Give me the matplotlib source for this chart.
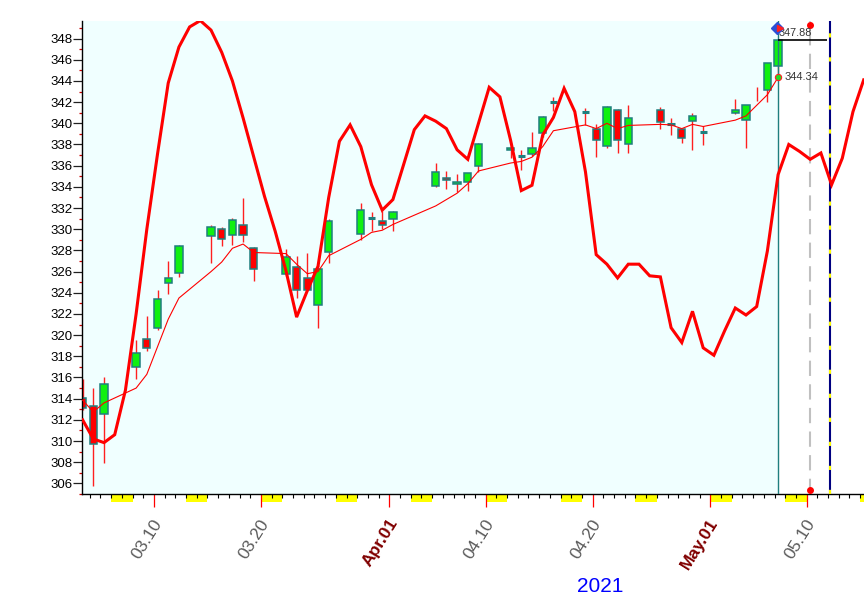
import numpy as np
import pandas as pd
import matplotlib
matplotlib.use("Agg")
import matplotlib.pyplot as plt
from matplotlib.patches import Rectangle
import matplotlib.transforms as mtransforms

plt.rcParams['font.family'] = ['Liberation Sans', 'DejaVu Sans']
plt.rcParams['lines.scale_dashes'] = False

# ---------------- data ----------------
dates = ['2021-03-03', '2021-03-04', '2021-03-05', '2021-03-08', '2021-03-09', '2021-03-10',
         '2021-03-11', '2021-03-12', '2021-03-15', '2021-03-16', '2021-03-17', '2021-03-18',
         '2021-03-19', '2021-03-22', '2021-03-23', '2021-03-24', '2021-03-25', '2021-03-26',
         '2021-03-29', '2021-03-30', '2021-03-31', '2021-04-01', '2021-04-05', '2021-04-06',
         '2021-04-07', '2021-04-08', '2021-04-09', '2021-04-12', '2021-04-13', '2021-04-14',
         '2021-04-15', '2021-04-16', '2021-04-19', '2021-04-20', '2021-04-21', '2021-04-22',
         '2021-04-23', '2021-04-26', '2021-04-27', '2021-04-28', '2021-04-29', '2021-04-30',
         '2021-05-03', '2021-05-04', '2021-05-05', '2021-05-06', '2021-05-07']
opens = [314.07, 313.3, 312.6, 316.98, 319.6, 320.7, 324.95, 325.85, 329.4, 330.0, 329.46, 330.4,
         328.24, 325.76, 326.45, 325.4, 322.88, 327.86, 329.55, 331.05, 330.77, 330.96, 334.12, 334.85,
         334.3, 334.5, 335.94, 337.5, 336.95, 337.07, 339.04, 342.0, 341.05, 339.5, 337.9, 341.3,
         338.0, 341.3, 339.9, 339.45, 340.2, 339.14, 341.0, 340.27, None, 343.1, 345.43]
highs = [315.9, 315.0, 316.0, 319.5, 321.8, 324.3, 327.0, 328.5, 330.4, 330.2, 331.1, 332.96,
         328.3, 328.1, 327.5, 327.8, 326.6, 331.0, 332.46, 331.6, 331.7, 331.7, 336.25, 335.5,
         335.2, 335.3, 338.1, 338.13, 337.5, 339.2, 340.7, 342.5, 341.4, 339.9, 341.6, 341.35,
         341.7, 341.5, 340.5, 339.5, 340.95, 339.7, 342.3, 341.7, 343.4, 345.7, 347.95]
lows = [312.9, 305.8, 307.9, 315.9, 318.5, 320.5, 323.9, 325.5, 326.85, 328.4, 328.5, 328.8,
        325.1, 325.6, 323.5, 324.2, 320.7, 326.8, 329.0, 329.86, 330.0, 329.8, 334.0, 333.8,
        333.5, 333.6, 335.4, 336.7, 335.6, 336.9, 338.7, 341.2, 339.85, 336.85, 337.7, 337.2,
        337.2, 339.5, 338.9, 338.1, 337.5, 337.97, 340.9, 337.66, 342.1, 342.05, 344.55]
closes = [313.16, 309.7, 315.36, 318.36, 318.8, 323.4, 325.4, 328.4, 330.2, 329.04, 330.87, 329.5,
          326.26, 327.4, 324.3, 324.3, 326.26, 330.8, 331.8, 331.15, 330.4, 331.6, 335.37, 334.65,
          334.5, 335.3, 338.0, 337.7, 336.95, 337.7, 340.6, 342.0, 341.15, 338.4, 341.5, 338.4,
          340.5, 340.1, 339.9, 338.6, 340.7, 339.14, 341.3, 341.7, None, 345.7, 347.88]
ma = [313.86, 312.75, 313.6, 315.0, 316.3, 318.9, 321.5, 323.5, 326.0, 326.9, 328.2, 328.6,
      327.8, 327.7, 326.7, 325.8, 326.0, 327.5, 329.04, 329.7, 329.9, 330.45, 332.2, 332.8,
      333.4, 334.3, 335.5, 336.25, 336.4, 336.8, 337.8, 339.3, 339.85, 339.5, 340.0, 339.5,
      339.8, 339.9, 339.85, 339.5, 339.9, 339.7, 340.3, 340.7, 341.7, 342.7, 344.34]

# oscillator line, one value per calendar day from 2021-03-03 to 2021-05-15
osc_start = '2021-03-03'
osc = [312.0, 310.2, 309.85, 310.6, 314.8, 322.0, 330.0, 337.1, 343.8, 347.2, 349.1, 349.7,
       348.8, 346.7, 344.0, 340.5, 336.8, 333.1, 329.8, 326.1, 321.7, 324.2, 326.5, 333.0,
       338.3, 339.85, 337.8, 334.2, 331.8, 332.8, 336.1, 339.4, 340.7, 340.2, 339.5, 337.5,
       336.6, 340.0, 343.4, 342.5, 338.4, 333.65, 334.15, 338.9, 340.55, 343.3, 341.1, 335.4,
       327.6, 326.7, 325.4, 326.7, 326.7, 325.6, 325.5, 320.7, 319.3, 322.25, 318.8, 318.1,
       320.4, 322.56, 321.9, 322.7, 327.95, 335.15, 338.0, 337.35, 336.6, 337.2, 334.2, 336.7,
       341.1, 344.1]

tick_dates = ['2021-03-10', '2021-03-20', '2021-04-01', '2021-04-10', '2021-04-20', '2021-05-01', '2021-05-10']
tick_labels = ['03.10', '03.20', 'Apr.01', '04.10', '04.20', 'May.01', '05.10']
month_ticks = ['Apr.01', 'May.01']
last_close_label = '347.88'
last_ma_label = '344.34'
next_day = '2021-05-10'
future_mark = '2021-05-12'
year_label = '2021'

# ---------------- geometry ----------------
base = pd.Timestamp('2021-03-10')
OFF = 0.33


def dnum(s):
    return (pd.Timestamp(s) - base).days


xs = np.array([dnum(s) for s in dates]) + OFF
osc_x = np.arange(len(osc)) + dnum(osc_start) + OFF

W, H = 864, 603
fig = plt.figure(figsize=(W / 100, H / 100), dpi=100)
ax_l, ax_r, ax_t, ax_b = 82.3, 864, 21, 494
ax = fig.add_axes([ax_l / W, 1 - ax_b / H, (ax_r - ax_l) / W, (ax_b - ax_t) / H])
xmin, xmax = -6.70, 66.36
ymin, ymax = 305.29, 349.66
ax.set_xlim(xmin, xmax)
ax.set_ylim(ymin, ymax)
ax.set_facecolor('white')
for s in ['top', 'right']:
    ax.spines[s].set_visible(False)
for s in ['left', 'bottom']:
    ax.spines[s].set_color('black')
    ax.spines[s].set_linewidth(1.0)

last_x = xs[-1]
ax.axvspan(xmin, last_x, color='#f0ffff', zorder=0, lw=0)

# weekend markers under the axis
trans_b = mtransforms.blended_transform_factory(ax.transData, ax.transAxes)
box_h = 7.7 / (ax_b - ax_t)
for dd in range(-8, 68):
    day = base + pd.Timedelta(days=dd)
    if day.dayofweek == 5:
        ax.add_patch(Rectangle((dd, -box_h), 2, box_h, transform=trans_b,
                               facecolor='#ffff00', edgecolor='none', clip_on=False, zorder=1))

# candles
teal = '#1f7f7f'
w = 0.68
for x, o, h, l, c in zip(xs, opens, highs, lows, closes):
    ax.vlines(x, l, h, color='#ff2020', lw=1.0, zorder=2)
    if o is None or c is None:
        continue
    if abs(c - o) < 0.12:
        ax.hlines((o + c) / 2, x - w / 2, x + w / 2, color=teal, lw=2.2, zorder=2.2)
    else:
        col = '#10f010' if c > o else '#ff0000'
        ax.add_patch(Rectangle((x - w / 2, min(o, c)), w, abs(c - o), facecolor=col,
                               edgecolor=teal, lw=1.1, zorder=2.1))

# moving average
ax.plot(xs, ma, color='#ff0000', lw=0.8, zorder=3)
ax.plot([last_x], [ma[-1]], 'o', ms=4.5, mfc='#22dd22', mec='#ff2020', mew=0.8, zorder=5)

# oscillator
ax.plot(osc_x, osc, color='#ff0000', lw=2.2, zorder=4, solid_joinstyle='miter')

# vertical markers
ax.axvline(last_x, color=teal, lw=1.0, zorder=3.5)
nx = dnum(next_day) + OFF
ax.plot([nx, nx], [0, 1], transform=trans_b, color='#c0c0c0', lw=1.5,
        dashes=(11, 6), zorder=3)
ax.plot([nx], [0.992], 'o', transform=trans_b, ms=4, color='#ff0000', zorder=5, clip_on=False)
ax.plot([nx], [0.009], 'o', transform=trans_b, ms=4, color='#ff0000', zorder=5, clip_on=False)
fx = dnum(future_mark) + 0.2
ax.plot([fx, fx], [0, 1], transform=trans_b, color='#000080', lw=1.5, zorder=3)
ax.plot([fx, fx], [0, 1], transform=trans_b, color='#ffff00', lw=1.5,
        dashes=(3, 14.3), zorder=3.1)

# last close line and labels
ax.hlines(closes[-1], last_x, fx - 0.3, color='black', lw=1.2, zorder=4)
ax.text(last_x + 0.02, closes[-1] + 0.22, last_close_label, fontsize=7.8, color='#333333',
        ha='left', va='bottom', zorder=6)
ax.text(last_x + 0.62, ma[-1], last_ma_label, fontsize=8, color='#333333',
        ha='left', va='center', zorder=6)
ax.plot([last_x - 0.1], [349.0], 'D', ms=6, color='#2a4fd6', zorder=6, clip_on=False)
ax.plot([last_x + 0.15], [349.0], '>', ms=4, color='#ff2020', zorder=6.1, clip_on=False)

# y ticks
ax.set_yticks(np.arange(306, 349, 2))
ax.set_yticks(np.arange(305, 350, 1), minor=True)
ax.tick_params(axis='y', which='major', length=6.2, width=0.9, color='#202020',
               labelsize=9.5, pad=1, labelcolor='black')
ax.tick_params(axis='y', which='minor', length=2.4, width=0.9, color='#cc0000')

# x ticks
ax.set_xticks([dnum(s) for s in tick_dates])
ax.set_xticklabels(tick_labels)
ax.set_xticks(np.arange(-6, 67, 1), minor=True)
ax.tick_params(axis='x', which='major', length=9.1, width=0.9, color='#ff0000', pad=7)
ax.tick_params(axis='x', which='minor', length=3.1, width=0.8, color='black')
offset = mtransforms.ScaledTranslation(11 / 100, 0, fig.dpi_scale_trans)
for lab in ax.get_xticklabels():
    lab.set_rotation(58)
    lab.set_ha('right')
    lab.set_va('top')
    lab.set_fontsize(12.5)
    lab.set_transform(lab.get_transform() + offset)
    if lab.get_text() in month_ticks:
        lab.set_color('#800000')
        lab.set_fontweight('bold')
    else:
        lab.set_color('#5a5a5a')

fig.text(600 / W, 1 - 586 / H, year_label, fontsize=15, color='#0000ff', ha='center', va='center')

fig.savefig('out.png', dpi=100, facecolor='white')
